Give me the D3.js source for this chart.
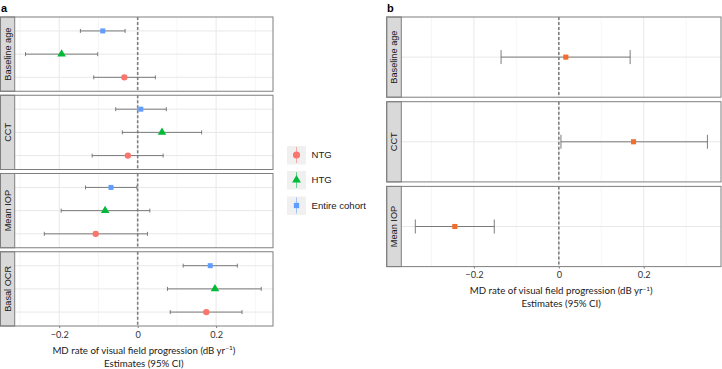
<!DOCTYPE html>
<html>
<head>
<meta charset="utf-8">
<script src="https://cdn.jsdelivr.net/npm/d3@7"></script>
<style>
  body { margin: 0; background: #fff; }
  svg text { font-family: "Liberation Sans", Arial, sans-serif; }
  .axislab { font-family: Lato, "Noto Sans", sans-serif; }
</style>
</head>
<body>
<div id="chart"></div>
<script>
// Panel a data: one row per factor, three groups
const factorsA = ["Baseline age", "CCT", "Mean IOP", "Basal OCR"];
const groupsA = ["NTG", "HTG", "Entire cohort"];
const ntgEst = [-0.034, -0.025, -0.107, 0.175];
const ntgLo  = [-0.112, -0.116, -0.238, 0.083];
const ntgHi  = [ 0.045,  0.065,  0.025, 0.266];
const htgEst = [-0.194,  0.062, -0.083, 0.197];
const htgLo  = [-0.286, -0.039, -0.195, 0.076];
const htgHi  = [-0.102,  0.163,  0.031, 0.315];
const allEst = [-0.089,  0.008, -0.068, 0.185];
const allLo  = [-0.146, -0.056, -0.133, 0.116];
const allHi  = [-0.032,  0.073, -0.002, 0.254];

// Panel b data
const factorsB = ["Baseline age", "CCT", "Mean IOP"];
const estB = [ 0.0165, 0.176, -0.245];
const loB  = [-0.136,  0.005, -0.338];
const hiB  = [ 0.168,  0.350, -0.152];

const xTicks = [-0.2, 0, 0.2];
const xMinor = [-0.3, -0.1, 0.1, 0.3];

const colors = {"NTG": "#F8766D", "HTG": "#00BA38", "Entire cohort": "#619CFF"};
const orange = "#F26D2A";

const svg = d3.select("#chart").append("svg")
    .attr("width", 722)
    .attr("height", 369);

const rowsA = groupsA.map((g, gi) => ({
  group: g,
  est: [ntgEst, htgEst, allEst][gi],
  lo: [ntgLo, htgLo, allLo][gi],
  hi: [ntgHi, htgHi, allHi][gi]
}));

function drawPanels(opt) {
  const x = d3.scaleLinear().domain(opt.domain).range([opt.left, opt.right]);

  opt.factors.forEach((f, i) => {
    const top = opt.top + i * (opt.ph + opt.gap);
    const y = d3.scalePoint().domain(opt.levels).range([top + opt.ph, top]).padding(opt.pad);
    const g = svg.append("g");

    // minor and major grid
    g.selectAll(".minor").data(xMinor).join("line")
        .attr("x1", d => x(d)).attr("x2", d => x(d))
        .attr("y1", top).attr("y2", top + opt.ph)
        .attr("stroke", "#f0f0f0").attr("stroke-width", 0.6);
    g.selectAll(".major").data(xTicks).join("line")
        .attr("x1", d => x(d)).attr("x2", d => x(d))
        .attr("y1", top).attr("y2", top + opt.ph)
        .attr("stroke", "#e8e8e8").attr("stroke-width", 1);
    g.selectAll(".hgrid").data(opt.levels).join("line")
        .attr("x1", opt.left).attr("x2", opt.right)
        .attr("y1", d => y(d)).attr("y2", d => y(d))
        .attr("stroke", "#e8e8e8").attr("stroke-width", 1);

    // zero line
    g.append("line")
        .attr("x1", x(0)).attr("x2", x(0))
        .attr("y1", top).attr("y2", top + opt.ph)
        .attr("stroke", "#808080").attr("stroke-width", 1.6)
        .attr("stroke-dasharray", "3,2");

    // error bars and points
    opt.rows(i).forEach(r => {
      const yy = y(r.level);
      g.append("line")
          .attr("x1", x(r.lo)).attr("x2", x(r.hi))
          .attr("y1", yy).attr("y2", yy)
          .attr("stroke", "#6e6e6e").attr("stroke-width", 0.9);
      [r.lo, r.hi].forEach(v => {
        g.append("line")
            .attr("x1", x(v)).attr("x2", x(v))
            .attr("y1", yy - opt.cap).attr("y2", yy + opt.cap)
            .attr("stroke", "#6e6e6e").attr("stroke-width", 0.9);
      });
      g.append("path")
          .attr("d", d3.symbol().type(r.shape).size(r.size)())
          .attr("transform", `translate(${x(r.est)},${yy})`)
          .attr("fill", r.color);
    });

    // panel border and strip
    g.append("rect")
        .attr("x", opt.stripX).attr("y", top)
        .attr("width", opt.left - opt.stripX).attr("height", opt.ph)
        .attr("fill", "#d9d9d9").attr("stroke", "#7f7f7f").attr("stroke-width", 1);
    g.append("rect")
        .attr("x", opt.stripX).attr("y", top)
        .attr("width", opt.right - opt.stripX).attr("height", opt.ph)
        .attr("fill", "none").attr("stroke", "#7f7f7f").attr("stroke-width", 1);
    g.append("text")
        .attr("transform", `translate(${(opt.stripX + opt.left) / 2 + 3.3},${top + opt.ph / 2}) rotate(-90)`)
        .attr("text-anchor", "middle")
        .attr("font-size", 9.2)
        .attr("fill", "#1a1a1a")
        .text(f);
  });

  // x axis
  const bottom = opt.top + opt.factors.length * opt.ph + (opt.factors.length - 1) * opt.gap;
  const ax = svg.append("g")
      .attr("transform", `translate(0,${bottom})`)
      .call(d3.axisBottom(x).tickValues(xTicks).tickSize(2).tickPadding(3)
        .tickFormat(d => d === 0 ? "0" : d3.format(".1f")(d).replace("-", "\u2212")));
  ax.select(".domain").remove();
  ax.selectAll(".tick line").attr("stroke", "#7f7f7f");
  ax.selectAll(".tick text").attr("class", "axislab").attr("font-size", 9.2).attr("fill", "#333");

  const cx = (opt.left + opt.right) / 2;
  const t1 = svg.append("text").attr("class", "axislab")
      .attr("x", cx).attr("y", bottom + 27.5).attr("text-anchor", "middle")
      .attr("font-size", 9.7).attr("fill", "#1a1a1a");
  t1.append("tspan").text("MD rate of visual field progression (dB yr");
  t1.append("tspan").attr("dy", -3.5).attr("font-size", 6.5).text("\u22121");
  t1.append("tspan").attr("dy", 3.5).text(")");
  svg.append("text").attr("class", "axislab")
      .attr("x", cx).attr("y", bottom + 40.5).attr("text-anchor", "middle")
      .attr("font-size", 9.7).attr("fill", "#1a1a1a")
      .text("Estimates (95% CI)");

  svg.append("text")
      .attr("x", opt.labelX).attr("y", 12)
      .attr("font-size", 11).attr("font-weight", "bold")
      .text(opt.label);
}

// panel a
drawPanels({
  label: "a", labelX: 1,
  factors: factorsA, levels: ["NTG", "HTG", "Entire cohort"],
  domain: [-0.3135, 0.345], stripX: 0.5, left: 14.7, right: 273,
  top: 17, ph: 74.25, gap: 4, pad: 0.6, cap: 2,
  rows: i => rowsA.map((r, gi) => ({
    level: r.group, est: r.est[i], lo: r.lo[i], hi: r.hi[i],
    color: colors[r.group],
    shape: [d3.symbolCircle, d3.symbolTriangle, d3.symbolSquare][gi],
    size: [32, 32, 25][gi]
  }))
});

// panel b
drawPanels({
  label: "b", labelX: 387,
  factors: factorsB, levels: ["x"],
  domain: [-0.371, 0.382], stripX: 386.7, left: 401.3, right: 721,
  top: 17, ph: 80.2, gap: 4.5, pad: 0.5, cap: 7,
  rows: i => [{level: "x", est: estB[i], lo: loB[i], hi: hiB[i], color: orange, shape: d3.symbolSquare, size: 26}]
});

// legend
const legend = svg.append("g");
groupsA.forEach((gname, gi) => {
  const yc = [155, 180, 205.5][gi];
  legend.append("rect")
      .attr("x", 287).attr("y", yc - 9).attr("width", 19).attr("height", 18.5)
      .attr("fill", "#f0f0f0");
  legend.append("line")
      .attr("x1", 296.5).attr("x2", 296.5).attr("y1", yc - 8).attr("y2", yc + 8)
      .attr("stroke", colors[gname]).attr("stroke-opacity", 0.55).attr("stroke-width", 1);
  legend.append("path")
      .attr("d", d3.symbol().type([d3.symbolCircle, d3.symbolTriangle, d3.symbolSquare][gi]).size([40, 34, 28][gi])())
      .attr("transform", `translate(296.5,${yc})`)
      .attr("fill", colors[gname]);
  legend.append("text")
      .attr("x", 311.5).attr("y", yc + 3.3)
      .attr("font-size", 9.6).attr("fill", "#1a1a1a")
      .text(gname);
});
</script>
</body>
</html>
